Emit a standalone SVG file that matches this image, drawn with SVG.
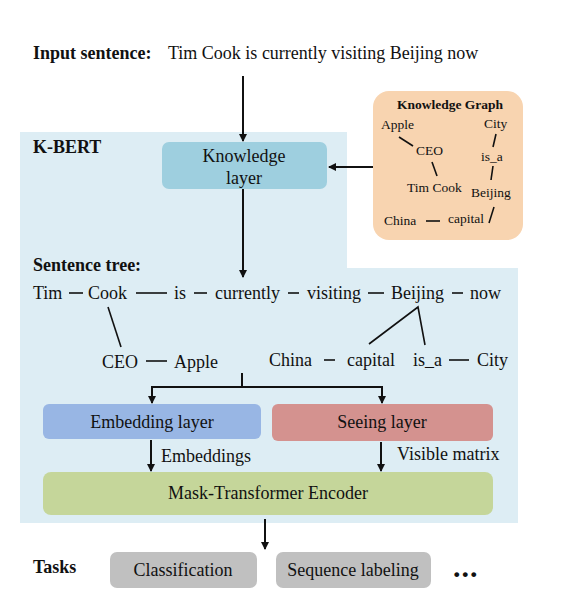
<svg xmlns="http://www.w3.org/2000/svg" width="568" height="601" viewBox="0 0 568 601">
<defs>
<style>
text{font-family:"Liberation Serif","Times New Roman",serif;fill:#111;}
.t{font-size:18px;}
.b{font-size:18px;font-weight:bold;}
.kg{font-size:13.5px;}
.c{text-anchor:middle;}
.ln{stroke:#111;stroke-width:1.6;fill:none;}
.ar{stroke:#111;stroke-width:2;fill:none;}
</style>
<marker id="ah" markerWidth="8" markerHeight="8" refX="7" refY="4" orient="auto" markerUnits="userSpaceOnUse">
<path d="M0,0 L8,4 L0,8 Z" fill="#111"/>
</marker>
</defs>
<rect width="568" height="601" fill="#fff"/>
<g id="kbert-region">
<path d="M20,132 H347 V268 H518 V523 H20 Z" fill="#ddedf4"/>
<text class="b" x="33" y="153">K-BERT</text>
</g>
<g id="input">
<text class="b" x="33" y="59">Input sentence:</text>
<text class="t" x="168" y="59">Tim Cook is currently visiting Beijing now</text>
</g>
<g id="knowledge-layer">
<rect x="162" y="142" width="165" height="47" rx="7" fill="#9ecfdf"/>
<text class="t c" x="244" y="162">Knowledge</text>
<text class="t c" x="244" y="184">layer</text>
</g>
<g id="knowledge-graph">
<rect x="373" y="91" width="150" height="149" rx="16" fill="#f8d4b0"/>
<text class="kg c" x="450" y="109" font-weight="bold">Knowledge Graph</text>
<text class="kg" x="381" y="129">Apple</text>
<text class="kg" x="484" y="128">City</text>
<text class="kg" x="416" y="155">CEO</text>
<text class="kg" x="481" y="161">is_a</text>
<text class="kg" x="407" y="192">Tim Cook</text>
<text class="kg" x="471" y="197">Beijing</text>
<text class="kg" x="384" y="225">China</text>
<text class="kg" x="448" y="223">capital</text>
<g class="ln" stroke-width="1.2">
<line x1="399" y1="137" x2="413" y2="146"/>
<line x1="496" y1="134" x2="493" y2="147"/>
<line x1="432" y1="162" x2="437" y2="176"/>
<line x1="493" y1="166" x2="491" y2="180"/>
<line x1="494" y1="207" x2="489" y2="223"/>
<line x1="426" y1="221" x2="440" y2="221"/>
</g>
</g>
<g id="sentence-tree">
<text class="b" x="33" y="271">Sentence tree:</text>
<text class="t" x="33" y="299">Tim</text>
<text class="t" x="88" y="299">Cook</text>
<text class="t" x="174" y="299">is</text>
<text class="t" x="215" y="299">currently</text>
<text class="t" x="307" y="299">visiting</text>
<text class="t" x="391" y="299">Beijing</text>
<text class="t" x="470" y="299">now</text>
<text class="t" x="102" y="368">CEO</text>
<text class="t" x="174" y="368">Apple</text>
<text class="t" x="269" y="366">China</text>
<text class="t" x="347" y="366">capital</text>
<text class="t" x="413" y="366">is_a</text>
<text class="t" x="477" y="366">City</text>
<g class="ln">
<line x1="69" y1="293" x2="83" y2="293"/>
<line x1="136" y1="293" x2="167" y2="293"/>
<line x1="194" y1="293" x2="207" y2="293"/>
<line x1="288" y1="293" x2="299" y2="293"/>
<line x1="368" y1="293" x2="384" y2="293"/>
<line x1="452" y1="293" x2="463" y2="293"/>
<line x1="108" y1="307" x2="121" y2="347"/>
<line x1="146" y1="361" x2="167" y2="361"/>
<line x1="324" y1="360" x2="335" y2="360"/>
<line x1="449" y1="360" x2="469" y2="360"/>
<polyline points="369,344 418,307 425,345"/>
</g>
</g>
<g id="embedding-layer">
<rect x="43" y="404" width="218" height="35" rx="6" fill="#98b6e4"/>
<text class="t c" x="152" y="428">Embedding layer</text>
</g>
<g id="seeing-layer">
<rect x="272" y="404" width="221" height="37" rx="6" fill="#d4928f"/>
<text class="t c" x="382" y="428">Seeing layer</text>
</g>
<g id="encoder">
<rect x="43" y="472" width="450" height="43" rx="8" fill="#c5d69a"/>
<text class="t c" x="268" y="499">Mask-Transformer Encoder</text>
</g>
<g id="tasks">
<text class="b" x="33" y="573">Tasks</text>
<rect x="110" y="552" width="147" height="36" rx="7" fill="#c0c0c0"/>
<text class="t c" x="183" y="576">Classification</text>
<rect x="276" y="552" width="155" height="36" rx="7" fill="#c0c0c0"/>
<text class="t c" x="353" y="576">Sequence labeling</text>
<text x="453" y="577" font-size="30" font-weight="bold" letter-spacing="1">...</text>
</g>
<g id="connectors">
<line class="ar" x1="243" y1="76" x2="243" y2="141" marker-end="url(#ah)"/>
<line class="ar" x1="373" y1="167" x2="329" y2="167" marker-end="url(#ah)"/>
<line class="ar" x1="243" y1="189" x2="243" y2="277" marker-end="url(#ah)"/>
<line class="ar" x1="242" y1="373" x2="242" y2="387"/>
<polyline class="ar" points="152,402 152,387 382,387 382,402"/>
<line class="ar" x1="152" y1="395" x2="152" y2="403" marker-end="url(#ah)"/>
<line class="ar" x1="382" y1="395" x2="382" y2="403" marker-end="url(#ah)"/>
<line class="ar" x1="151" y1="440" x2="151" y2="471" marker-end="url(#ah)"/>
<line class="ar" x1="381" y1="442" x2="381" y2="471" marker-end="url(#ah)"/>
<line class="ar" x1="265" y1="519" x2="265" y2="549" marker-end="url(#ah)"/>
<text class="t" x="161" y="462">Embeddings</text>
<text class="t" x="397" y="460">Visible matrix</text>
</g>
</svg>
